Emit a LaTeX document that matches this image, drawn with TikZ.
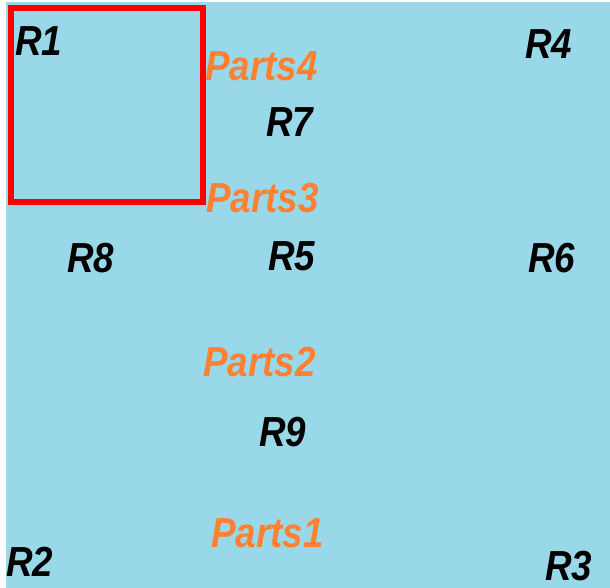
\documentclass[tikz,border=0pt]{standalone}
\usepackage{fontspec}
\setmainfont{Liberation Sans}
\usepackage{graphicx}
\definecolor{bgblue}{HTML}{99D8E8}
\definecolor{partorange}{HTML}{FF8030}
\definecolor{boxred}{HTML}{FF0000}
\begin{document}
\begin{tikzpicture}[x=1pt,y=-1pt,
  lbl/.style={anchor=base west,inner sep=0pt,font=\fontsize{35}{35}\selectfont\bfseries\itshape},
  rlbl/.style={lbl,text=black},
  plbl/.style={lbl,text=partorange}]
\useasboundingbox (0,0) rectangle (610,588);
\fill[bgblue] (6,2) rectangle (610,588);
\draw[boxred,line width=6pt] (11,8) rectangle (203,202);
\newcommand{\tall}[1]{\scalebox{1.05}[1.2]{#1}}
\node[rlbl] (r1) at (15,56) {\tall{R1}};
\node[rlbl] (r4) at (525,59) {\tall{R4}};
\node[rlbl] (r7) at (266,137) {\tall{R7}};
\node[rlbl] (r8) at (67,272) {\tall{R8}};
\node[rlbl] (r5) at (268,270) {\tall{R5}};
\node[rlbl] (r6) at (528,272) {\tall{R6}};
\node[rlbl] (r9) at (259,446) {\tall{R9}};
\node[rlbl] (r2) at (6,576) {\tall{R2}};
\node[rlbl] (r3) at (545,580) {\tall{R3}};
\node[plbl] (p4) at (205,81) {\tall{Parts4}};
\node[plbl] (p3) at (206,212) {\tall{Parts3}};
\node[plbl] (p2) at (203,376) {\tall{Parts2}};
\node[plbl] (p1) at (211,547) {\tall{Parts1}};
\end{tikzpicture}
\end{document}
